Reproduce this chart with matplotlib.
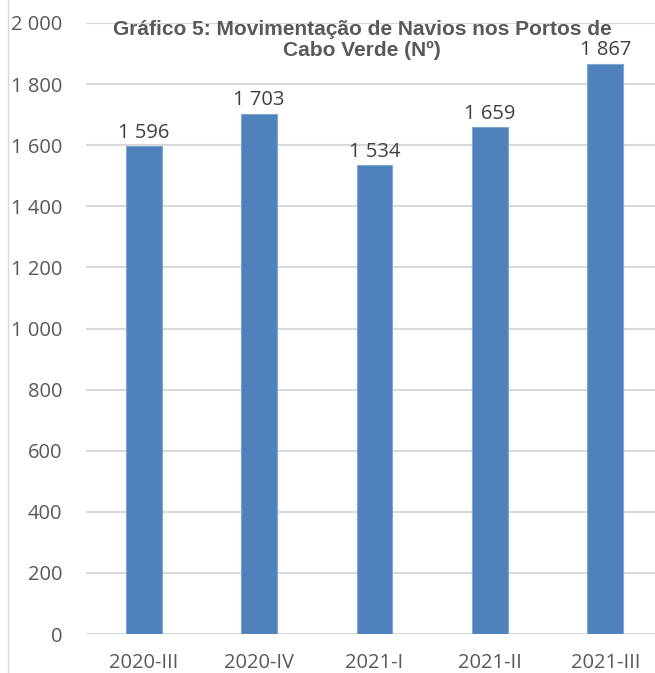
import matplotlib
matplotlib.use("Agg")
import matplotlib.pyplot as plt
from matplotlib.lines import Line2D

categories = ["2020-III", "2020-IV", "2021-I", "2021-II", "2021-III"]
values = [1596, 1703, 1534, 1659, 1867]
yticks = [0, 200, 400, 600, 800, 1000, 1200, 1400, 1600, 1800, 2000]

def fmt(v):
    return f"{v:,}".replace(",", " ")

W, H = 655, 673
fig = plt.figure(figsize=(W/100, H/100), dpi=100)
ax = fig.add_axes([86/W, 1-634/H, (W-86)/W, (634-23)/H])

x = list(range(len(categories)))
ax.bar(x, values, width=0.31, color="#4F81BD", edgecolor="#7FA6D6", linewidth=0.8, zorder=3)
ax.set_ylim(0, 2000)
ax.set_xlim(-0.5, -0.5 + (W-86)/115.4)
ax.set_yticks(yticks)
ax.set_yticklabels([fmt(v) for v in yticks])
ax.set_xticks(x)
ax.set_xticklabels(categories)
ax.tick_params(axis="both", length=0, labelsize=14.5, labelcolor="#595959")
ax.tick_params(axis="y", pad=17)
ax.tick_params(axis="x", pad=13.5)
for lab in ax.get_xticklabels() + ax.get_yticklabels():
    lab.set_fontfamily("Open Sans")
ax.grid(axis="y", color="#D9D9D9", linewidth=1.5, zorder=0)
ax.set_axisbelow(True)
for s in ax.spines.values():
    s.set_visible(False)

for xi, v in zip(x, values):
    ax.annotate(fmt(v), (xi, v), xytext=(0, 2.5), textcoords="offset points",
                ha="center", va="bottom", fontsize=14.5, color="#404040",
                fontfamily="Open Sans")

fig.text(362/W, 1-40/H, "Gráfico 5: Movimentação de Navios nos Portos de\nCabo Verde (Nº)",
         ha="center", va="center", fontsize=15, fontweight="bold", color="#595959",
         fontfamily="Liberation Sans", linespacing=1.12)

fig.add_artist(Line2D([7.5/W, 7.5/W], [0, 1], transform=fig.transFigure, color="#D9D9D9", linewidth=1))

fig.savefig("out.png", dpi=100)
